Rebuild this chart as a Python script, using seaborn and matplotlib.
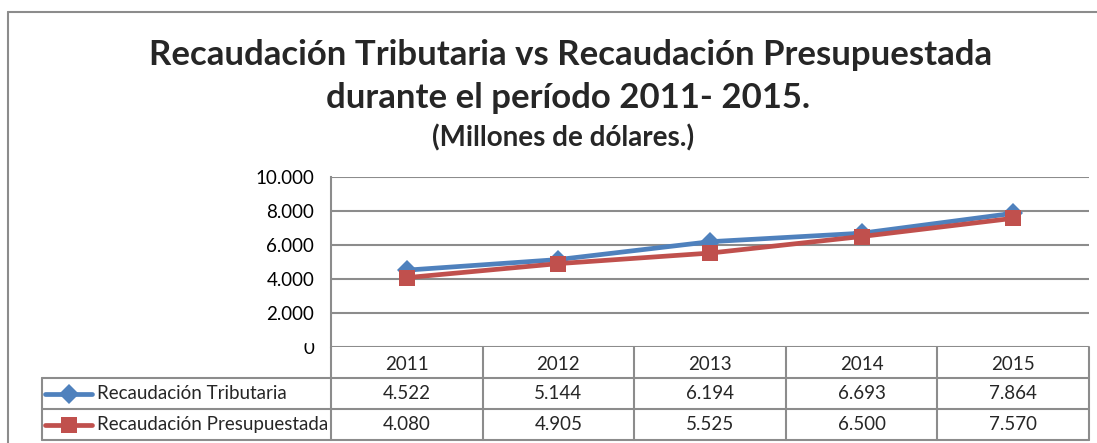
import matplotlib
matplotlib.use("Agg")
import matplotlib.pyplot as plt
from matplotlib.lines import Line2D
from matplotlib.patches import Rectangle
import pandas as pd
import seaborn as sns

years = [2011, 2012, 2013, 2014, 2015]
tributaria = [4522, 5144, 6194, 6693, 7864]
presupuestada = [4080, 4905, 5525, 6500, 7570]
series_names = ["Recaudación Tributaria", "Recaudación Presupuestada"]
y_ticks = [0, 2000, 4000, 6000, 8000, 10000]

BLUE = "#4F81BD"
RED = "#C0504D"
GRID = "#8C8C8C"
W, H = 1097, 443
FS = 13.5


def fmt(v):
    return f"{v:,.0f}".replace(",", ".")


def px_box(x0, y0, x1, y1):
    # pixel box (top-left origin) -> figure fraction rect
    return [x0 / W, (H - y1) / H, (x1 - x0) / W, (y1 - y0) / H]


df = pd.DataFrame({
    "year": years * 2,
    "value": tributaria + presupuestada,
    "serie": [series_names[0]] * len(years) + [series_names[1]] * len(years),
})

sns.set_theme(style="white")
plt.rcParams["font.family"] = ["Lato", "DejaVu Sans"]

fig = plt.figure(figsize=(W / 100, H / 100), dpi=100)

# outer chart frame (cropped at right and bottom)
fig.add_artist(Line2D([8 / W, 8 / W], [0, (H - 12) / H], color=GRID, lw=1.5))
fig.add_artist(Line2D([8 / W, 1], [(H - 12) / H] * 2, color=GRID, lw=1.5))

fig.text(571 / W, 1 - 55 / H, "Recaudación Tributaria vs Recaudación Presupuestada",
         ha="center", va="center", fontsize=25, fontweight="bold")
fig.text(568 / W, 1 - 98 / H, "durante el período 2011- 2015.",
         ha="center", va="center", fontsize=25, fontweight="bold")
fig.text(563 / W, 1 - 138 / H, "(Millones de dólares.)",
         ha="center", va="center", fontsize=20, fontweight="bold")

left_px, right_px = 331, 1089
ax = fig.add_axes(px_box(left_px, 177, right_px, 347))
sns.lineplot(data=df, x="year", y="value", hue="serie", style="serie",
             palette=[BLUE, RED], markers=["D", "s"], dashes=False,
             linewidth=3.4, markeredgewidth=0, legend=False, ax=ax)
for ln, ms in zip(ax.lines, [10, 12]):
    ln.set_markersize(ms)
ax.set_xlim(years[0] - 0.5, years[-1] + 0.5)
ax.set_ylim(y_ticks[0], y_ticks[-1])
ax.set_yticks(y_ticks)
ax.set_yticklabels([fmt(v) for v in y_ticks], fontsize=FS)
ax.set_xticks([])
ax.set_xlabel("")
ax.set_ylabel("")
ax.yaxis.grid(True, color=GRID, lw=1.5)
ax.set_axisbelow(True)
for side in ["top", "right", "bottom"]:
    ax.spines[side].set_visible(False)
ax.spines["left"].set_color(GRID)
ax.spines["left"].set_linewidth(1.5)
ax.tick_params(axis="y", length=0, pad=12, colors="black")

# top of the "0" label is hidden in the reference
fig.add_artist(Rectangle((295 / W, (H - 342) / H), 30 / W, 6 / H,
                         transform=fig.transFigure, color="white", zorder=10))

# data table under the plot
tab_left = 42
px_per_year = (right_px - left_px) / len(years)
x_lab = years[0] - 0.5 - (left_px - tab_left) / px_per_year
tax = fig.add_axes(px_box(tab_left, 347, right_px, 440))
tax.set_xlim(x_lab, years[-1] + 0.5)
tax.set_ylim(3, 0)
tax.axis("off")
edges = [y - 0.5 for y in years] + [years[-1] + 0.5]
for xe in edges:
    tax.plot([xe, xe], [0, 3], color=GRID, lw=1.5, clip_on=False)
tax.plot([x_lab, x_lab], [1, 3], color=GRID, lw=1.5, clip_on=False)
for yr in [1, 2, 3]:
    tax.plot([x_lab, edges[-1]], [yr, yr], color=GRID, lw=1.5, clip_on=False)

for yv in years:
    tax.text(yv, 0.55, str(yv), ha="center", va="center", fontsize=FS)
rows = [tributaria, presupuestada]
colors = [BLUE, RED]
markers = [("D", 10), ("s", 12)]
for r, (vals, name, c, (mk, ms)) in enumerate(zip(rows, series_names, colors, markers)):
    yc = 1.5 + r
    h0, h1 = x_lab + 0.02, x_lab + 0.33
    tax.add_line(Line2D([h0, h1], [yc, yc], color=c, lw=3.4))
    tax.add_line(Line2D([(h0 + h1) / 2], [yc], color=c, marker=mk,
                        markersize=ms, markeredgewidth=0))
    tax.text(x_lab + 0.36, yc, name, ha="left", va="center", fontsize=FS)
    for yv, v in zip(years, vals):
        tax.text(yv, yc, fmt(v), ha="center", va="center", fontsize=FS)

fig.savefig("out.png", dpi=100)
